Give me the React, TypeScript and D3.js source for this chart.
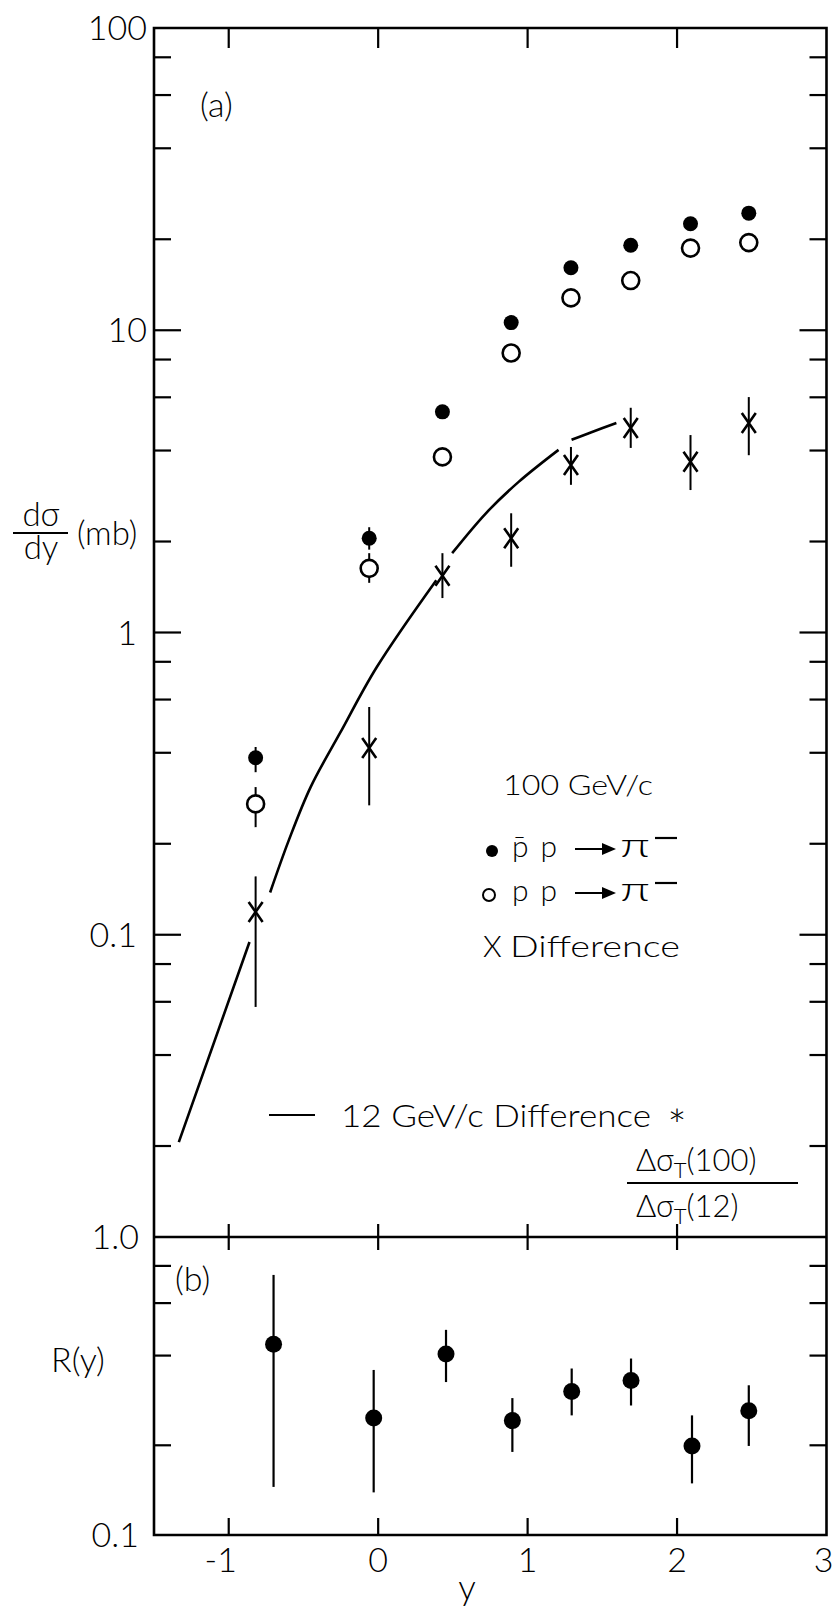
import * as d3 from "d3";

// rapidity y of the 100 GeV/c points (panel a)
const rapidity = [-0.82, -0.06, 0.43, 0.89, 1.29, 1.69, 2.09, 2.48];
// pbar p -> pi-  dσ/dy (mb)
const pbarP = [0.385, 2.05, 5.37, 10.6, 16.1, 19.1, 22.5, 24.4];
const pbarPLo = [0.345, 1.88, 5.2, 10.3, 15.6, 18.6, 21.9, 23.8];
const pbarPHi = [0.418, 2.23, 5.55, 10.9, 16.6, 19.6, 23.1, 25.0];
// p p -> pi-
const ppPi = [0.271, 1.63, 3.81, 8.41, 12.8, 14.6, 18.7, 19.5];
const ppPiLo = [0.227, 1.46, 3.7, 8.2, 12.4, 14.2, 18.2, 19.0];
const ppPiHi = [0.308, 1.83, 3.92, 8.6, 13.2, 15.0, 19.2, 20.0];
// difference
const diff = [0.119, 0.415, 1.54, 2.05, 3.58, 4.75, 3.67, 4.93];
const diffLo = [0.0577, 0.268, 1.3, 1.65, 3.08, 4.08, 2.96, 3.86];
const diffHi = [0.156, 0.567, 1.83, 2.48, 4.11, 5.54, 4.5, 6.01];

// 12 GeV/c difference curve (NaN = break in the drawn line)
const curveRap = [-1.334, -0.861, NaN, -0.723, -0.597, -0.452, -0.254, -0.009, 0.389, NaN, 0.495, 0.721, 0.94, 1.207, NaN, 1.294, 1.427, 1.594];
const curveVal = [0.0206, 0.0946, NaN, 0.138, 0.206, 0.308, 0.466, 0.769, 1.49, NaN, 1.83, 2.48, 3.15, 4.02, NaN, 4.34, 4.6, 4.93];

// panel (b): R(y)
const rRap = [-0.7, -0.03, 0.454, 0.898, 1.295, 1.692, 2.1, 2.48];
const rVal = [0.437, 0.247, 0.405, 0.242, 0.303, 0.33, 0.199, 0.261];
const rLo = [0.145, 0.139, 0.326, 0.19, 0.252, 0.272, 0.149, 0.199];
const rHi = [0.746, 0.358, 0.488, 0.288, 0.362, 0.391, 0.252, 0.318];

// ticks
const xTicks = [-1, 0, 1, 2];
const xTickLabels = ["-1", "0", "1", "2", "3"];
const xTickLabelValues = [-1, 0, 1, 2, 3];
const aMajor = [10, 1, 0.1];
const aLabels = ["100", "10", "1", "0.1"];
const aLabelValues = [100, 10, 1, 0.1];
const decadesA = [0.01, 0.1, 1, 10];
const decadesB = [0.1];
const mantissas = [2, 4, 6, 8];

const FONT = "Lato, 'DejaVu Sans', sans-serif";

function Arrow({ x0, y }: { x0: number; y: number }) {
  return (
    <g>
      <line x1={x0} x2={x0 + 30} y1={y} y2={y} stroke="#000" strokeWidth={2} />
      <path d={`M${x0 + 27},${y - 6} L${x0 + 41},${y} L${x0 + 27},${y + 6} Z`} fill="#000" />
    </g>
  );
}

export default function App() {
  const x = d3.scaleLinear([-1.5, 3], [154, 826.5]);
  const yA = d3.scaleLog([0.01, 100], [1237, 28]);
  const yB = d3.scaleLog([0.1, 1], [1535, 1237]);
  const L = x(-1.5);
  const R = x(3);
  const top = yA(100);
  const mid = yA(0.01);
  const bot = yB(0.1);

  const minorA = decadesA.flatMap((d) => mantissas.map((m) => d * m));
  const minorB = decadesB.flatMap((d) => mantissas.map((m) => d * m));

  const curve = d3
    .line<number>()
    .defined((i) => !isNaN(curveRap[i]))
    .x((i) => x(curveRap[i]))
    .y((i) => yA(curveVal[i]))
    .curve(d3.curveCatmullRom);
  const curvePath = curve(curveRap.map((_, i) => i)) || "";

  const frame = { stroke: "#000", strokeWidth: 2.6, fill: "none" };
  const tick = { stroke: "#000", strokeWidth: 2.2 };
  const txt = { fontFamily: FONT, fill: "#000", fontWeight: 300 };

  return (
    <div style={{ position: "absolute", left: 0, top: 0 }}>
      <svg width={834} height={1617} style={{ display: "block", background: "#fff" }}>
        {/* frames */}
        <path d={`M${L},${top} H${R} V${bot} H${L} Z`} {...frame} />
        <line x1={L} x2={R} y1={mid} y2={mid} {...frame} />

        {/* x ticks */}
        {xTicks.map((t) => (
          <g key={t}>
            <line x1={x(t)} x2={x(t)} y1={top} y2={top + 20} {...tick} />
            <line x1={x(t)} x2={x(t)} y1={mid - 13} y2={mid + 13} {...tick} />
            <line x1={x(t)} x2={x(t)} y1={bot} y2={bot - 17} {...tick} />
          </g>
        ))}

        {/* panel a y ticks */}
        {aMajor.map((v) => (
          <g key={v}>
            <line x1={L} x2={L + 27} y1={yA(v)} y2={yA(v)} {...tick} />
            <line x1={R} x2={R - 27} y1={yA(v)} y2={yA(v)} {...tick} />
          </g>
        ))}
        {minorA.map((v) => (
          <g key={v}>
            <line x1={L} x2={L + 17} y1={yA(v)} y2={yA(v)} {...tick} />
            <line x1={R} x2={R - 17} y1={yA(v)} y2={yA(v)} {...tick} />
          </g>
        ))}
        {/* panel b y ticks */}
        {minorB.map((v) => (
          <g key={v}>
            <line x1={L} x2={L + 17} y1={yB(v)} y2={yB(v)} {...tick} />
            <line x1={R} x2={R - 17} y1={yB(v)} y2={yB(v)} {...tick} />
          </g>
        ))}

        {/* y tick labels */}
        {aLabelValues.map((v, i) => (
          <text key={v} x={v >= 10 ? 147 : 137} y={yA(v) + 12} textAnchor="end" fontSize={34} {...txt}>
            {aLabels[i]}
          </text>
        ))}
        <text x={139} y={yB(1) + 12} textAnchor="end" fontSize={34} {...txt}>1.0</text>
        <text x={139} y={yB(0.1) + 12} textAnchor="end" fontSize={34} {...txt}>0.1</text>

        {/* x tick labels */}
        {xTickLabelValues.map((v, i) => (
          <text key={v} x={x(v) + (v < 0 ? -8 : v === 3 ? -3 : 0)} y={1572} textAnchor="middle" fontSize={34} {...txt}>
            {xTickLabels[i]}
          </text>
        ))}
        <text x={467} y={1600} textAnchor="middle" fontSize={35} {...txt}>y</text>

        {/* axis titles */}
        <text x={41} y={526} textAnchor="middle" fontSize={33} {...txt}>dσ</text>
        <line x1={13} x2={68} y1={533} y2={533} stroke="#000" strokeWidth={2.2} />
        <text x={41} y={559} textAnchor="middle" fontSize={33} {...txt}>dy</text>
        <text x={77} y={545} fontSize={33} {...txt}>(mb)</text>
        <text x={51} y={1372} fontSize={34} {...txt}>R(y)</text>
        <text x={200} y={117} fontSize={34} {...txt}>(a)</text>
        <text x={175} y={1291} fontSize={34} {...txt}>(b)</text>

        {/* 12 GeV/c curve */}
        <path d={curvePath} fill="none" stroke="#000" strokeWidth={2.6} />

        {/* error bars */}
        {rapidity.map((r, i) => (
          <g key={"e" + i} stroke="#000" strokeWidth={2}>
            <line x1={x(r)} x2={x(r)} y1={yA(pbarPLo[i])} y2={yA(pbarPHi[i])} />
            <line x1={x(r)} x2={x(r)} y1={yA(ppPiLo[i])} y2={yA(ppPiHi[i])} />
            <line x1={x(r)} x2={x(r)} y1={yA(diffLo[i])} y2={yA(diffHi[i])} />
          </g>
        ))}
        {/* pbar p points */}
        {rapidity.map((r, i) => (
          <circle key={"f" + i} cx={x(r)} cy={yA(pbarP[i])} r={7.5} fill="#000" />
        ))}
        {/* p p points */}
        {rapidity.map((r, i) => (
          <circle key={"o" + i} cx={x(r)} cy={yA(ppPi[i])} r={8.5} fill="#fff" stroke="#000" strokeWidth={2.6} />
        ))}
        {/* difference points */}
        {rapidity.map((r, i) => {
          const cx = x(r);
          const cy = yA(diff[i]);
          return (
            <path
              key={"d" + i}
              d={`M${cx - 7},${cy - 10} L${cx + 7},${cy + 10} M${cx + 7},${cy - 10} L${cx - 7},${cy + 10}`}
              stroke="#000"
              strokeWidth={2.6}
              fill="none"
            />
          );
        })}

        {/* panel b points */}
        {rRap.map((r, i) => (
          <g key={"r" + i}>
            <line x1={x(r)} x2={x(r)} y1={yB(rLo[i])} y2={yB(rHi[i])} stroke="#000" strokeWidth={2.2} />
            <circle cx={x(r)} cy={yB(rVal[i])} r={8.5} fill="#000" />
          </g>
        ))}

        {/* legend */}
        <text x={503} y={795} fontSize={28} textLength={150} lengthAdjust="spacingAndGlyphs" {...txt}>100 GeV/c</text>
        <circle cx={492} cy={851} r={6} fill="#000" />
        <text x={512} y={857} fontSize={30} textLength={45} lengthAdjust="spacing" {...txt}>p̄p</text>
        <Arrow x0={575} y={849} />
        <text x={620} y={857} fontSize={34} textLength={30} lengthAdjust="spacingAndGlyphs" {...txt}>π</text>
        <line x1={655} x2={677} y1={838} y2={838} stroke="#000" strokeWidth={2.2} />

        <circle cx={489} cy={895} r={6} fill="none" stroke="#000" strokeWidth={2} />
        <text x={512} y={901} fontSize={30} textLength={45} lengthAdjust="spacing" {...txt}>pp</text>
        <Arrow x0={575} y={893} />
        <text x={620} y={901} fontSize={34} textLength={30} lengthAdjust="spacingAndGlyphs" {...txt}>π</text>
        <line x1={655} x2={677} y1={883} y2={883} stroke="#000" strokeWidth={2.2} />

        <text x={483} y={957} fontSize={30} {...txt}>X</text>
        <text x={510} y={957} fontSize={30} textLength={170} lengthAdjust="spacingAndGlyphs" {...txt}>Difference</text>

        <line x1={269} x2={315} y1={1115} y2={1115} stroke="#000" strokeWidth={2.2} />
        <text x={341} y={1127} fontSize={31} textLength={310} lengthAdjust="spacingAndGlyphs" {...txt}>12 GeV/c Difference</text>
        <text x={677} y={1142} textAnchor="middle" fontSize={46} {...txt}>*</text>

        <text x={636} y={1171} fontSize={31} {...txt}>
          Δσ<tspan fontSize={22} dy={7}>T</tspan>
          <tspan dy={-7}>(100)</tspan>
        </text>
        <line x1={627} x2={798} y1={1183} y2={1183} stroke="#000" strokeWidth={2.2} />
        <text x={636} y={1217} fontSize={31} {...txt}>
          Δσ<tspan fontSize={22} dy={7}>T</tspan>
          <tspan dy={-7}>(12)</tspan>
        </text>
      </svg>
    </div>
  );
}
